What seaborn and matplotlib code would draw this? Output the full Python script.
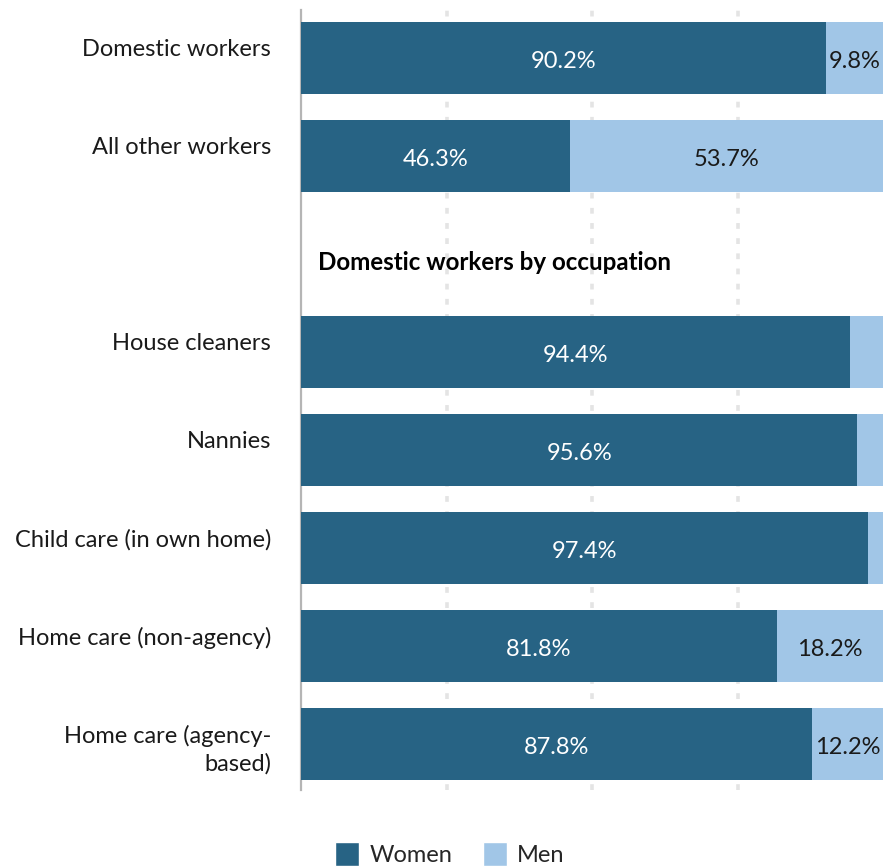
import matplotlib
matplotlib.use("Agg")
import matplotlib.pyplot as plt
import matplotlib.transforms as mtransforms
from matplotlib.patches import Patch
import numpy as np
import pandas as pd
import seaborn as sns

# Share of workers by gender (%)
categories = [
    "Domestic workers",
    "All other workers",
    "Domestic workers by occupation",
    "House cleaners",
    "Nannies",
    "Child care (in own home)",
    "Home care (non-agency)",
    "Home care (agency-\nbased)",
]
women = [90.2, 46.3, np.nan, 94.4, 95.6, 97.4, 81.8, 87.8]
men = [9.8, 53.7, np.nan, 5.6, 4.4, 2.6, 18.2, 12.2]
show_men_label = [True, True, False, False, False, False, True, True]
section_header = "Domestic workers by occupation"

WOMEN_COLOR = "#276384"
MEN_COLOR = "#a1c6e7"

sns.set_theme(style="white")
plt.rcParams["font.family"] = ["Lato", "DejaVu Sans"]

df = pd.DataFrame({"category": categories, "women": women, "men": men})
df["total"] = df["women"] + df["men"]

fig = plt.figure(figsize=(8.83, 8.67), dpi=100)
ax = fig.add_axes([301 / 883, 1 - 790 / 867, 582 / 883, 780 / 867])

bar_h = 72 / 98
sns.barplot(data=df, y="category", x="total", order=categories, orient="h",
            color=MEN_COLOR, width=bar_h, ax=ax, saturation=1, zorder=3,
            linewidth=0)
sns.barplot(data=df, y="category", x="women", order=categories, orient="h",
            color=WOMEN_COLOR, width=bar_h, ax=ax, saturation=1, zorder=4,
            linewidth=0)

ax.set_xlim(0, 100)
ax.set_ylim(7.47, -0.49)

# dotted vertical gridlines
for gx in (25, 50, 75):
    ax.axvline(gx, color="#e4e4e4", lw=2.6, ls=(0, (1.6, 2.6)), zorder=1)

for side in ("top", "right", "bottom"):
    ax.spines[side].set_visible(False)
ax.spines["left"].set_color("#b5b5b5")
ax.spines["left"].set_linewidth(1.6)
ax.set_xticks([])
ax.set_yticks([])
ax.set_xlabel("")
ax.set_ylabel("")

FS = 17
lab_trans = mtransforms.blended_transform_factory(fig.transFigure, ax.transData)
for i, cat in enumerate(categories):
    if cat == section_header:
        ax.text(2.9, i + 0.09, cat, fontsize=17.4, fontweight="bold",
                color="black", va="center", ha="left", zorder=5)
        continue
    ax.text(271 / 883, i - 0.19, cat, transform=lab_trans, fontsize=FS,
            color="#1a1a1a", ha="right", va="top", linespacing=1.3)
    w, m = women[i], men[i]
    ax.text(w / 2, i + 0.04, f"{w:.1f}%", color="white", fontsize=FS,
            ha="center", va="center", zorder=5)
    if show_men_label[i]:
        ax.text(w + m / 2, i + 0.04, f"{m:.1f}%", color="#1a1a1a", fontsize=FS,
                ha="center", va="center", zorder=5)

handles = [Patch(facecolor=WOMEN_COLOR, label="Women"),
           Patch(facecolor=MEN_COLOR, label="Men")]
fig.legend(handles=handles, loc="center", bbox_to_anchor=(450 / 883, 1 - 854 / 867),
           ncol=2, frameon=False, fontsize=FS, handlelength=1.0, handleheight=1.2,
           handletextpad=0.45, columnspacing=1.3, borderaxespad=0)

fig.savefig("out.png", dpi=100)
